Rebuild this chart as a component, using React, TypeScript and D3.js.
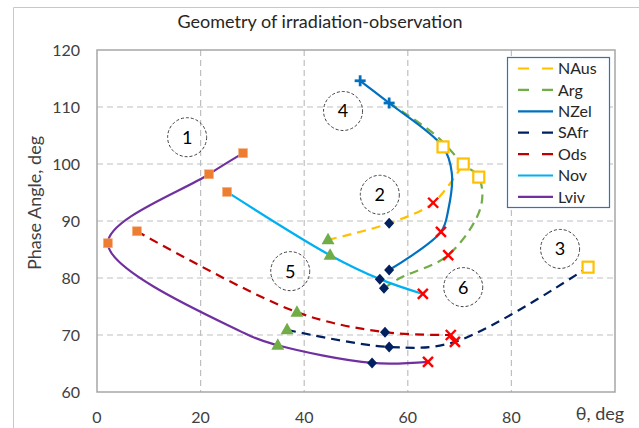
import React from 'react';
import * as d3 from 'd3';

// ---- data ----
const xTicks = [0, 20, 40, 60, 80];
const yTicks = [60, 70, 80, 90, 100, 110, 120];
const xGrid = [20, 40, 60, 80];
const yGrid = [70, 80, 90, 100, 110];

const seriesNames = ['NAus', 'Arg', 'NZel', 'SAfr', 'Ods', 'Nov', 'Lviv'];
const seriesColors = ['#FFC000', '#70AD47', '#0070C0', '#002060', '#C00000', '#00B0F0', '#7030A0'];
const seriesDashed = [true, true, false, true, true, false, false];

const nausPts: [number, number][] = [[44.6, 86.7], [56.4, 89.6], [64.9, 93.2], [70.7, 100]];
const argPts: [number, number][] = [[56.4, 110.7], [65.3, 105.1], [70.7, 100], [73.7, 97.7], [74.1, 92.5], [67.8, 84], [58.5, 80], [55.4, 78.2]];
const nzelPts: [number, number][] = [[50.8, 114.6], [56.4, 110.7], [66.8, 103], [68.5, 98.4], [67.8, 91.9], [66.4, 88.1], [56.4, 81.4]];
const safrPts: [number, number][] = [[36.7, 70.9], [56.4, 67.9], [69.1, 68.8], [94.8, 81.9]];
const odsPts: [number, number][] = [[7.7, 88.2], [38.6, 74], [55.6, 70.5], [68.3, 70]];
const novPts: [number, number][] = [[25.1, 95.1], [45, 84], [54.6, 79.8], [62.9, 77.2]];
const lvivPts: [number, number][] = [[28.2, 101.9], [21.6, 98.2], [2.1, 86.1], [28.5, 70.3], [34.9, 68.2], [53.1, 65.1], [63.9, 65.3]];
const seriesPts = [nausPts, argPts, nzelPts, safrPts, odsPts, novPts, lvivPts];

const orangeSquares: [number, number][] = [[28.2, 101.9], [21.6, 98.2], [2.1, 86.1], [25.1, 95.1], [7.7, 88.2]];
const greenTriangles: [number, number][] = [[44.6, 86.7], [45, 84], [38.6, 74], [36.7, 70.9], [34.9, 68.2]];
const navyDiamonds: [number, number][] = [[56.4, 89.6], [56.4, 81.4], [54.6, 79.8], [55.4, 78.2], [55.6, 70.5], [56.4, 67.9], [53.1, 65.1]];
const redCrosses: [number, number][] = [[64.9, 93.2], [66.4, 88.1], [67.8, 84], [62.9, 77.2], [68.3, 70], [69.1, 68.8], [63.9, 65.3]];
const yellowSquares: [number, number][] = [[66.8, 103], [70.7, 100], [73.7, 97.7], [94.8, 81.9]];
const bluePluses: [number, number][] = [[50.8, 114.6], [56.4, 110.7]];

const zoneLabels = ['1', '2', '3', '4', '5', '6'];
const zonePts: [number, number][] = [[17.4, 104.7], [54.6, 94.6], [89.4, 85.1], [47.5, 109.3], [37.3, 81.2], [70.7, 78.4]];

// ---- layout ----
const W = 639, H = 428;
const L = 97, R = 615, T = 50, B = 392;
const FONT = 'Lato, "Open Sans", sans-serif';

export default function App() {
  const x = d3.scaleLinear().domain([0, 100]).range([L, R]);
  const y = d3.scaleLinear().domain([60, 120]).range([B, T]);
  const line = d3.line<[number, number]>()
    .x(d => x(d[0]))
    .y(d => y(d[1]))
    .curve(d3.curveCatmullRom.alpha(0.5));

  return (
    <svg width={W} height={H} style={{ position: 'absolute', left: 0, top: 0, background: '#fff' }}>
      {/* outer frame */}
      <line x1={13.5} y1={7.5} x2={W} y2={7.5} stroke="#C8C8C8" strokeWidth={1} />
      <line x1={13.5} y1={7.5} x2={13.5} y2={H} stroke="#C8C8C8" strokeWidth={1} />

      {/* title */}
      <text x={320} y={28} textAnchor="middle" fontFamily={FONT} fontSize={18} fill="#262626">
        Geometry of irradiation-observation
      </text>

      {/* grid */}
      {xGrid.map(v => (
        <line key={'gx' + v} x1={x(v)} x2={x(v)} y1={T} y2={B} stroke="#BFBFBF" strokeWidth={1.2} strokeDasharray="6 4" />
      ))}
      {yGrid.map(v => (
        <line key={'gy' + v} x1={L} x2={R} y1={y(v)} y2={y(v)} stroke="#BFBFBF" strokeWidth={1.2} strokeDasharray="6 4" />
      ))}

      {/* plot border */}
      <rect x={L} y={T} width={R - L} height={B - T} fill="none" stroke="#A6A6A6" strokeWidth={1.5} />

      {/* tick labels */}
      {yTicks.map(v => (
        <text key={'ty' + v} x={80} y={y(v)} dy="0.36em" textAnchor="end" fontFamily={FONT} fontSize={16} fill="#404040">{v}</text>
      ))}
      {xTicks.map(v => (
        <text key={'tx' + v} x={x(v)} y={423} textAnchor="middle" fontFamily={FONT} fontSize={16} fill="#404040">{v}</text>
      ))}
      <text x={600} y={420} textAnchor="middle" fontFamily={FONT} fontSize={18} fill="#404040">θ, deg</text>
      <text transform="translate(41,203) rotate(-90)" textAnchor="middle" fontFamily={FONT} fontSize={18} fill="#404040">
        Phase Angle, deg
      </text>

      {/* zone circles */}
      {zonePts.map((p, i) => (
        <g key={'z' + i} transform={`translate(${x(p[0])},${y(p[1])})`}>
          <circle r={19.5} fill="none" stroke="#404040" strokeWidth={1} strokeDasharray="3 2" />
          <text dy="0.36em" textAnchor="middle" fontFamily={FONT} fontSize={18} fill="#000">{zoneLabels[i]}</text>
        </g>
      ))}

      {/* series lines */}
      {seriesPts.map((pts, i) => (
        <path key={'s' + i} d={line(pts) || ''} fill="none" stroke={seriesColors[i]} strokeWidth={2.2}
          strokeDasharray={seriesDashed[i] ? '9 6' : undefined} />
      ))}

      {/* markers */}
      {orangeSquares.map((p, i) => (
        <rect key={'os' + i} x={x(p[0]) - 4.5} y={y(p[1]) - 4.5} width={9} height={9} fill="#ED7D31" stroke="#F4B183" strokeWidth={0.6} />
      ))}
      {greenTriangles.map((p, i) => (
        <path key={'gt' + i} transform={`translate(${x(p[0])},${y(p[1])})`} d="M0,-7 L6.5,4.5 L-6.5,4.5 Z" fill="#70AD47" />
      ))}
      {navyDiamonds.map((p, i) => (
        <path key={'nd' + i} transform={`translate(${x(p[0])},${y(p[1])})`} d="M0,-5.5 L5,0 L0,5.5 L-5,0 Z" fill="#002060" />
      ))}
      {redCrosses.map((p, i) => (
        <g key={'rx' + i} transform={`translate(${x(p[0])},${y(p[1])})`} stroke="#FF0000" strokeWidth={2.4}>
          <line x1={-5} y1={-5} x2={5} y2={5} />
          <line x1={-5} y1={5} x2={5} y2={-5} />
        </g>
      ))}
      {yellowSquares.map((p, i) => (
        <rect key={'ys' + i} x={x(p[0]) - 5.5} y={y(p[1]) - 5.5} width={11} height={11} fill="#fff" stroke="#FFC000" strokeWidth={2.2} />
      ))}
      {bluePluses.map((p, i) => (
        <g key={'bp' + i} transform={`translate(${x(p[0])},${y(p[1])})`} stroke="#0070C0" strokeWidth={2.8}>
          <line x1={-5.5} y1={0} x2={5.5} y2={0} />
          <line x1={0} y1={-5.5} x2={0} y2={5.5} />
        </g>
      ))}

      {/* legend */}
      <rect x={507.5} y={57.5} width={102} height={150} fill="#fff" stroke="#2E75B6" strokeWidth={1.2} />
      {seriesNames.map((n, i) => {
        const ly = 68.5 + i * 21.4;
        return (
          <g key={'lg' + n}>
            <line x1={518} x2={553} y1={ly} y2={ly} stroke={seriesColors[i]} strokeWidth={2.2}
              strokeDasharray={seriesDashed[i] ? '11 13' : undefined} />
            <text x={558} y={ly} dy="0.36em" fontFamily={FONT} fontSize={16} fill="#262626">{n}</text>
          </g>
        );
      })}
    </svg>
  );
}
